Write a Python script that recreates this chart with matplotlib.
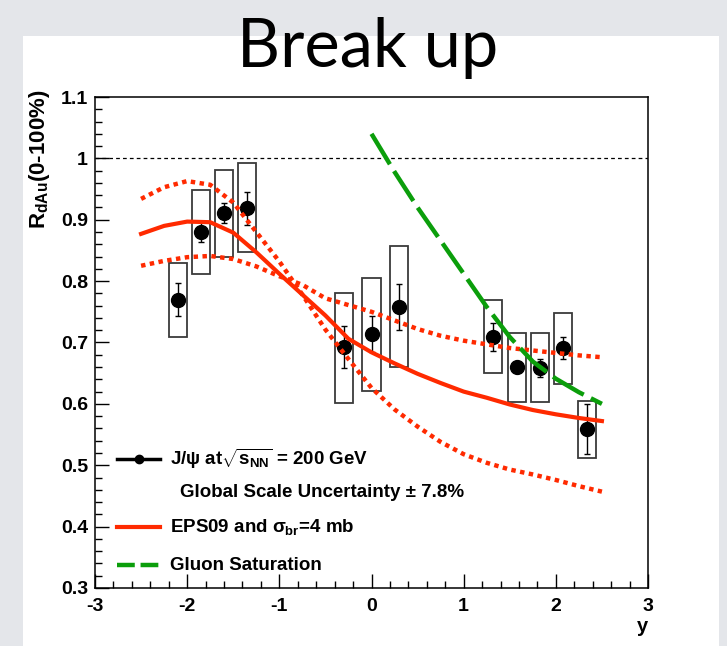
import numpy as np
import matplotlib
matplotlib.use("Agg")
import matplotlib.pyplot as plt
from matplotlib.patches import Rectangle
from matplotlib.ticker import MultipleLocator

plt.rcParams["font.family"] = ["Liberation Sans", "DejaVu Sans"]
plt.rcParams["font.weight"] = "bold"
plt.rcParams["axes.unicode_minus"] = False
plt.rcParams["mathtext.fontset"] = "custom"
plt.rcParams["mathtext.rm"] = "Liberation Sans:bold"
plt.rcParams["mathtext.it"] = "Liberation Sans:bold"
plt.rcParams["mathtext.bf"] = "Liberation Sans:bold"
plt.rcParams["mathtext.sf"] = "Liberation Sans:bold"

# J/psi R_dAu vs rapidity
y_pts    = [-2.10, -1.85, -1.60, -1.35, -0.30, 0.00, 0.30, 1.32, 1.58, 1.83, 2.08, 2.34]
r_pts    = [0.770, 0.880, 0.911, 0.919, 0.693, 0.714, 0.758, 0.709, 0.660, 0.658, 0.691, 0.559]
stat_err = [0.027, 0.016, 0.016, 0.027, 0.034, 0.029, 0.037, 0.023, 0.008, 0.015, 0.018, 0.041]
sys_lo   = [0.709, 0.812, 0.839, 0.847, 0.601, 0.621, 0.660, 0.650, 0.603, 0.603, 0.632, 0.512]
sys_hi   = [0.830, 0.948, 0.981, 0.992, 0.781, 0.805, 0.857, 0.769, 0.715, 0.715, 0.748, 0.605]

# EPS09 + sigma_br = 4 mb curves
y_eps = [-2.5, -2.25, -2.0, -1.75, -1.5, -1.25, -1.0, -0.75, -0.5, -0.25, 0.0,
         0.25, 0.5, 0.75, 1.0, 1.25, 1.5, 1.75, 2.0, 2.25, 2.5]
eps_mid = [0.877, 0.890, 0.897, 0.896, 0.879, 0.847, 0.812, 0.778, 0.744, 0.706, 0.684,
           0.666, 0.649, 0.634, 0.620, 0.610, 0.599, 0.590, 0.583, 0.577, 0.572]
eps_a   = [0.934, 0.953, 0.963, 0.957, 0.928, 0.880, 0.832, 0.778, 0.721, 0.673, 0.626,
           0.591, 0.563, 0.538, 0.518, 0.504, 0.493, 0.485, 0.476, 0.466, 0.457]
eps_b   = [0.825, 0.833, 0.839, 0.841, 0.836, 0.824, 0.808, 0.794, 0.772, 0.761, 0.750,
           0.736, 0.722, 0.711, 0.703, 0.697, 0.691, 0.687, 0.683, 0.679, 0.676]

# gluon saturation
y_cgc = [0.0, 0.25, 0.5, 0.75, 1.0, 1.25, 1.5, 1.75, 2.0, 2.25, 2.5]
r_cgc = [1.040, 0.978, 0.920, 0.866, 0.812, 0.758, 0.709, 0.669, 0.641, 0.619, 0.600]

RED = "#ff2a00"
GREEN = "#0b9e0b"

fig = plt.figure(figsize=(7.27, 6.46), dpi=100)
fig.patch.set_facecolor("#e4e6ea")
fig.add_artist(Rectangle((23 / 727, 0), 696 / 727, 610 / 646, transform=fig.transFigure,
                         facecolor="white", edgecolor="none", zorder=0))

fig.text(367.5 / 727, (646 - 67) / 646, "Break up", family=["Lato", "DejaVu Sans"],
         weight="normal", fontsize=48, ha="center", va="baseline")

ax = fig.add_axes([95 / 727, 58 / 646, 553 / 727, 491 / 646])
ax.set_facecolor("none")

# systematic boxes
sys_lo = np.array(sys_lo)
sys_hi = np.array(sys_hi)
ax.bar(y_pts, sys_hi - sys_lo, bottom=sys_lo, width=0.2, fill=False,
       edgecolor="#3a3a3a", linewidth=1.3, zorder=2)

ax.errorbar(y_pts, r_pts, yerr=stat_err, fmt="o", color="black", ms=10,
            elinewidth=1, capsize=2.5, capthick=1, zorder=3)

ax.axhline(1.0, color="black", lw=0.9, ls=(0, (3, 2.5)), zorder=1)

ax.plot(y_eps, eps_mid, color=RED, lw=3, zorder=4)
ax.plot(y_eps, eps_a, color=RED, lw=3.2, ls=(0, (1, 1)), zorder=4)
ax.plot(y_eps, eps_b, color=RED, lw=3.2, ls=(0, (1, 1)), zorder=4)
ax.plot(y_cgc, r_cgc, color=GREEN, lw=3.2, ls=(0, (8, 1.8)), zorder=5)

ax.set_xlim(-3, 3)
ax.set_ylim(0.3, 1.1)
ax.xaxis.set_major_locator(MultipleLocator(1))
ax.xaxis.set_minor_locator(MultipleLocator(0.2))
ax.yaxis.set_major_locator(MultipleLocator(0.1))
ax.yaxis.set_minor_locator(MultipleLocator(0.02))
ax.yaxis.set_major_formatter(plt.FuncFormatter(lambda v, p: "1" if abs(v - 1) < 1e-6 else f"{v:.1f}"))
ax.tick_params(which="both", direction="in", top=False, right=False, width=1,
               labelsize=14)
ax.tick_params(which="major", length=10)
ax.tick_params(which="minor", length=5)
ax.tick_params(axis="x", pad=7)
ax.tick_params(axis="y", pad=5)
for s in ax.spines.values():
    s.set_linewidth(1.1)

ax.text(-0.1, 1.015, "R$_{dAu}$(0-100%)", rotation=90, ha="center", va="top",
        fontsize=16, transform=ax.transAxes)
ax.text(1.0, -0.078, "y", ha="right", va="center", fontsize=14.5, transform=ax.transAxes)

# legend, ROOT style
hx = [0.040, 0.1175]
tx = 0.1356
rows = [0.2627, 0.1935, 0.1242, 0.0468]
ax.plot(hx, [rows[0]] * 2, color="black", lw=2.5, transform=ax.transAxes, clip_on=False)
ax.plot([np.mean(hx)], [rows[0]], "o", color="black", ms=6, transform=ax.transAxes)
ax.plot(hx, [rows[2]] * 2, color=RED, lw=3, transform=ax.transAxes)
ax.plot(hx, [rows[3]] * 2, color=GREEN, lw=3.2, ls=(0, (4, 1.3)), transform=ax.transAxes)
ax.text(tx, rows[0], r"J/ψ at$\sqrt{s_{NN}}$ = 200 GeV", fontsize=13.5, va="center",
        transform=ax.transAxes)
ax.text(tx + 0.018, rows[1], "Global Scale Uncertainty ± 7.8%", fontsize=13.5, va="center",
        transform=ax.transAxes)
ax.text(tx, rows[2], r"EPS09 and $\sigma_{br}$=4 mb", fontsize=13.5, va="center",
        transform=ax.transAxes)
ax.text(tx, rows[3], "Gluon Saturation", fontsize=13.5, va="center",
        transform=ax.transAxes)

fig.savefig("out.png", dpi=100, facecolor=fig.get_facecolor())
